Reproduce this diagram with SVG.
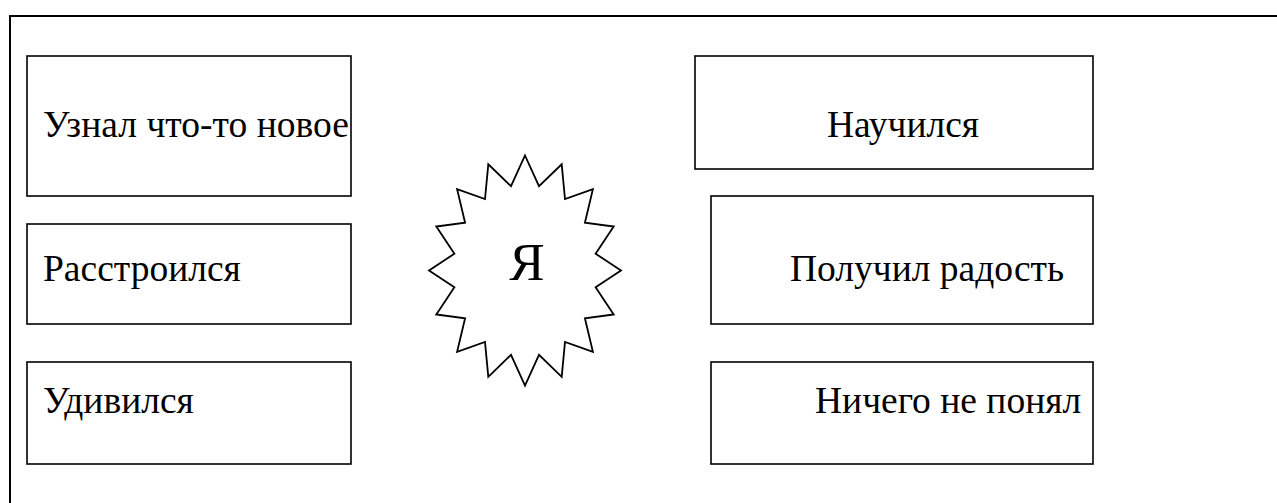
<svg xmlns="http://www.w3.org/2000/svg" width="1277" height="503" viewBox="0 0 1277 503">
<style>
.box{fill:#fff;stroke:#000;stroke-width:1.6}
.t{font-family:"Liberation Serif","Times New Roman",serif;font-size:37.5px;fill:#000}
.star{fill:#fff;stroke:#000;stroke-width:1.8;stroke-linejoin:miter}
</style>
<rect width="1277" height="503" fill="#fff"/>
<path d="M10,503 V16 H1277" fill="none" stroke="#000" stroke-width="2"/>
<g id="connectors"></g>
<g id="n1"><rect class="box" x="27" y="56" width="324" height="140"/><text class="t" x="43" y="137" textLength="306">Узнал что-то новое</text></g>
<g id="n2"><rect class="box" x="27" y="224" width="324" height="100"/><text class="t" x="43" y="281">Расстроился</text></g>
<g id="n3"><rect class="box" x="27" y="362" width="324" height="102"/><text class="t" x="43" y="413">Удивился</text></g>
<g id="ya"><polygon class="star" points="525,155.5 539,186.2 561.7,164.3 565,199 592.9,189.2 584.9,222.7 613.7,226.5 595.6,253.7 621,270.5 595.6,287.3 613.7,314.5 584.9,318.3 592.9,351.8 565,342 561.7,376.8 539,354.8 525,385.5 511,354.8 488.3,376.8 485,342 457.1,351.8 465.1,318.3 436.3,314.5 454.4,287.3 429,270.5 454.4,253.7 436.3,226.5 465.1,222.7 457.1,189.2 485,199 488.3,164.3 511,186.2"/><text class="t" x="527" y="280" text-anchor="middle" style="font-size:53px">Я</text></g>
<g id="n4"><rect class="box" x="695" y="56" width="398" height="113"/><text class="t" x="827" y="137">Научился</text></g>
<g id="n5"><rect class="box" x="711" y="196" width="382" height="128"/><text class="t" x="790" y="281">Получил радость</text></g>
<g id="n6"><rect class="box" x="711" y="362" width="382" height="102"/><text class="t" x="815" y="413">Ничего не понял</text></g>
</svg>
